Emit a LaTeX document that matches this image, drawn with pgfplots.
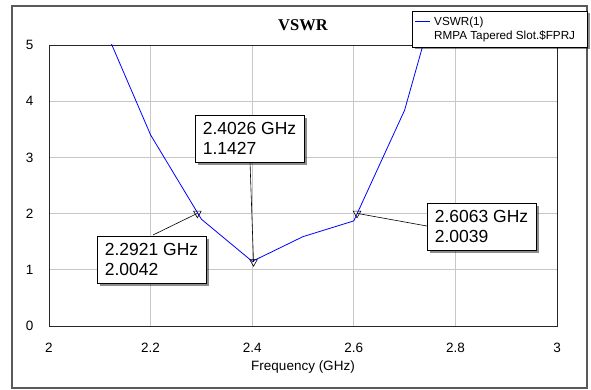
\documentclass[border=0pt]{standalone}
\usepackage{fontspec}
\setmainfont{Liberation Sans}
\newfontfamily\serifb{Liberation Serif}
\usepackage{pgfplots}
\pgfplotsset{compat=1.18}
\usetikzlibrary{shadows}
\begin{document}
\begin{tikzpicture}[x=1pt,y=1pt]
\useasboundingbox (0,0) rectangle (591,390);
\draw[black!65, line width=1.1pt] (12,2) rectangle (587,384);
\begin{axis}[at={(49pt,64pt)}, anchor=south west, scale only axis,
  width=508pt, height=281pt, xmin=2, xmax=3, ymin=0, ymax=5,
  xtick={2,2.2,2.4,2.6,2.8,3}, ytick={0,1,2,3,4,5},
  grid=major, major grid style={black!22, line width=0.7pt},
  major tick length=0pt,
  axis line style={black!85, line width=0.9pt},
  /pgf/number format/assume math mode=true,
  tick label style={font=\fontsize{13.5}{13.5}\selectfont},
  xticklabel style={anchor=base, inner sep=0pt, yshift=-27pt},
  yticklabel style={anchor=east, inner sep=0pt, xshift=-15.5pt},
  xlabel={Frequency (GHz)},
  xlabel style={font=\fontsize{13.5}{14}\selectfont, at={(axis description cs:0.5,0)}, anchor=base, inner sep=0pt, yshift=-45pt},
  title={VSWR},
  title style={font=\serifb\bfseries\fontsize{16.5}{17}\selectfont, at={(axis description cs:0.5,1)}, anchor=base, inner sep=0pt, yshift=8pt},
  clip=true]
\addplot[blue, line width=0.8pt] coordinates {
  (2.1,5.5) (2.2,3.40) (2.3,1.90) (2.4,1.15) (2.5,1.59) (2.6,1.87) (2.7,3.84) (2.8,7.05)
};
\draw[black, line width=0.6pt] (axis cs:2.3957,2.918) -- (axis cs:2.4026,1.1427);
\draw[black, line width=0.6pt] (axis cs:2.2047,1.619) -- (axis cs:2.2921,2.0042);
\draw[black, line width=0.6pt] (axis cs:2.744,1.779) -- (axis cs:2.6063,2.0039);
\addplot[only marks, mark=triangle, mark size=4.4pt, mark options={rotate=180, black, line width=0.6pt, fill=none}] coordinates {
  (2.2921,2.0042) (2.4026,1.1427) (2.6063,2.0039)
};
\tikzset{mbox/.style={draw=black, line width=0.8pt, fill=white, minimum width=109pt, minimum height=47pt, inner sep=0pt, align=left, font=\fontsize{17.5}{20}\selectfont, drop shadow={shadow xshift=2.5pt, shadow yshift=-2.5pt, fill=black, opacity=0.45}}}
\node[mbox] at (axis cs:2.3947,3.336) {2.4026 GHz\\1.1427};
\node[mbox] at (axis cs:2.2018,1.183) {2.2921 GHz\\2.0042};
\node[mbox] at (axis cs:2.8514,1.770) {2.6063 GHz\\2.0039};
\end{axis}
\draw[black, line width=0.8pt, fill=white, drop shadow={shadow xshift=2.5pt, shadow yshift=-2.5pt, fill=black, opacity=0.45}] (412,379) rectangle (587,343);
\draw[blue, line width=0.9pt] (415,368.3) -- (430,368.3);
\node[anchor=base west, inner sep=0pt, font=\fontsize{11.7}{12}\selectfont] at (434,364) {VSWR(1)};
\node[anchor=base west, inner sep=0pt, font=\fontsize{11.7}{12}\selectfont] at (434,350.5) {RMPA Tapered Slot.\$FPRJ};
\end{tikzpicture}
\end{document}
